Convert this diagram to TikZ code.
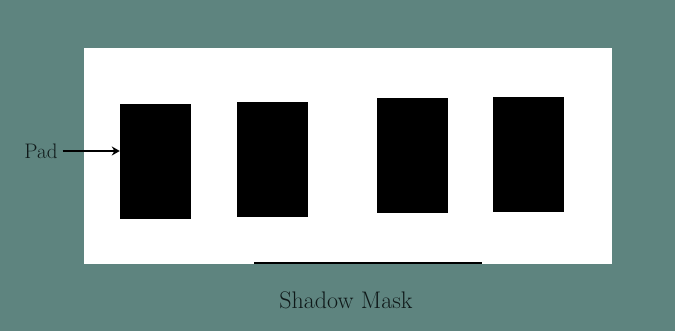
\documentclass[tikz,border=0pt]{standalone}
\usepackage{tikz}
\usepackage{xcolor}
\usetikzlibrary{arrows.meta, positioning}
\definecolor{mask-bg}{RGB}{94,132,127}
\definecolor{mask-ink}{RGB}{15,25,25}

\begin{document}
\begin{tikzpicture}[x=1pt, y=-1pt,
  padbox/.style={fill=black, draw=none, minimum width=71pt, minimum height=115pt, inner sep=0pt},
  lbl/.style={text=mask-ink, inner sep=0pt},
  arr/.style={-{Stealth[length=8pt, width=9pt]}, line width=2.6pt, black},
]
  \fill[mask-bg] (0,0) rectangle (675,331);
  \node[fill=white, minimum width=528pt, minimum height=216pt, inner sep=0pt] (mask) at (348,156) {};

  \node[padbox] (pad1) at (155.5,161.5) {};
  \node[padbox] (pad2) at (272,159.5) {};
  \node[padbox] (pad3) at (412,155.5) {};
  \node[padbox] (pad4) at (528,154.5) {};

  \node[lbl, font=\fontsize{21}{24}\selectfont] (padlbl) at (41,151) {Pad};
  \draw[arr] (padlbl.east) ++(5pt,0) -- (pad1.west |- padlbl.east);

  \coordinate (edgeL) at (254,263.5);
  \coordinate (edgeR) at (482,263.5);
  \draw[line width=2pt, black] (edgeL) -- (edgeR);

  \node[lbl, font=\fontsize{24}{28}\selectfont] (masklbl) at (346,300) {Shadow Mask};
\end{tikzpicture}
\end{document}
